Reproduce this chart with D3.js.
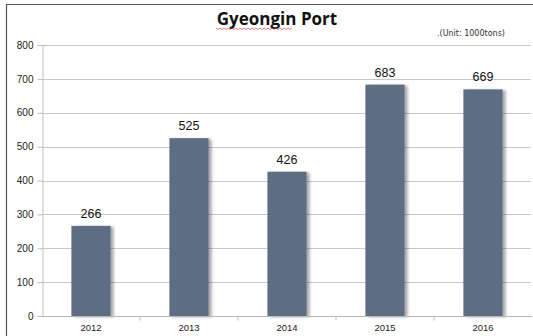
<!DOCTYPE html>
<html><head><meta charset="utf-8">
<script src="https://cdn.jsdelivr.net/npm/d3@7"></script>
<style>body{margin:0;background:#fff}svg{display:block}</style>
</head><body>
<script>
const categories = ["2012","2013","2014","2015","2016"];
const values = [266,525,426,683,669];
const yTicks = [0,100,200,300,400,500,600,700,800];

const W=533,H=336;
const svg=d3.select("body").append("svg").attr("width",W).attr("height",H);
const defs=svg.append("defs");
const f=defs.append("filter").attr("id","sh").attr("x","-20%").attr("y","-5%").attr("width","150%").attr("height","115%");
f.append("feGaussianBlur").attr("in","SourceAlpha").attr("stdDeviation",1.5);
f.append("feOffset").attr("dx",2.5).attr("dy",1).attr("result","b");
f.append("feComponentTransfer").append("feFuncA").attr("type","linear").attr("slope",0.35);
const m=f.append("feMerge");m.append("feMergeNode");m.append("feMergeNode").attr("in","SourceGraphic");

// frame
svg.append("line").attr("x1",6).attr("x2",W).attr("y1",4.5).attr("y2",4.5).attr("stroke","#555").attr("stroke-width",1.2);
svg.append("line").attr("x1",6.5).attr("x2",6.5).attr("y1",4).attr("y2",H).attr("stroke","#555").attr("stroke-width",1.2);

const x0=42,x1=532,yTop=45,yBot=316;
const x=d3.scaleBand().domain(categories).range([x0,x1]).paddingInner(0.6).paddingOuter(0.3);
const y=d3.scaleLinear().domain([0,800]).range([yBot,yTop]);

// grid
svg.append("g").selectAll("line").data(yTicks.filter(d=>d>0)).join("line")
 .attr("x1",x0).attr("x2",531).attr("y1",d=>Math.round(y(d))+0.5).attr("y2",d=>Math.round(y(d))+0.5)
 .attr("stroke","#c8c8c8").attr("stroke-width",1);

// y axis
const ya=svg.append("g").attr("transform",`translate(${x0+0.5},0)`)
 .call(d3.axisLeft(y).tickValues(yTicks).tickSize(5).tickPadding(4));
ya.select(".domain").attr("stroke","#c0c0c0");
ya.selectAll(".tick line").attr("stroke","#c0c0c0");
ya.selectAll("text").attr("font-family","Arial, 'Liberation Sans', sans-serif").attr("font-size",10).attr("fill","#222");

// bars
svg.append("g").selectAll("rect").data(values).join("rect")
 .attr("x",(d,i)=>x(categories[i])).attr("width",x.bandwidth())
 .attr("y",d=>y(d)).attr("height",d=>yBot-y(d))
 .attr("fill","#5d6d84").attr("filter","url(#sh)");

// x axis
const xa=svg.append("g").attr("transform",`translate(0,${yBot+0.5})`);
xa.append("line").attr("x1",x0).attr("x2",532).attr("stroke","#b8b8b8");
const bounds=d3.range(1,categories.length).map(i=>x0+ (x1-x0)/categories.length*i);
xa.selectAll(".tk").data(bounds).join("line").attr("class","tk")
 .attr("x1",d=>d).attr("x2",d=>d).attr("y1",0).attr("y2",4).attr("stroke","#b8b8b8");
xa.selectAll("text").data(categories).join("text")
 .attr("x",d=>x(d)+x.bandwidth()/2).attr("y",14).attr("text-anchor","middle")
 .attr("font-family","Arial, 'Liberation Sans', sans-serif").attr("font-size",9.5).attr("fill","#222").text(d=>d);

// value labels
svg.append("g").selectAll("text").data(values).join("text")
 .attr("x",(d,i)=>x(categories[i])+x.bandwidth()/2).attr("y",d=>y(d)-8)
 .attr("text-anchor","middle").attr("font-family","Arial, 'Liberation Sans', sans-serif")
 .attr("font-size",12.5).attr("fill","#111").text(d=>d);

// title
svg.append("text").attr("x",277).attr("y",25).attr("text-anchor","middle")
 .attr("font-family","'Open Sans', 'DejaVu Sans', sans-serif").attr("font-weight","bold").attr("font-size",17).attr("fill","#111")
 .text("Gyeongin Port");
// spell-check squiggle under first word
let p="M216,28";for(let i=0;i<38;i++){p+=` l2,${i%2?-1.5:1.5}`;}
svg.append("path").attr("d",p).attr("fill","none").attr("stroke","#e04040").attr("stroke-width",0.7);

svg.append("text").attr("x",437).attr("y",36).attr("font-family","'DejaVu Sans', sans-serif").attr("font-size",8).attr("fill","#333")
 .text(".(Unit: 1000tons)");
</script>
</body></html>
